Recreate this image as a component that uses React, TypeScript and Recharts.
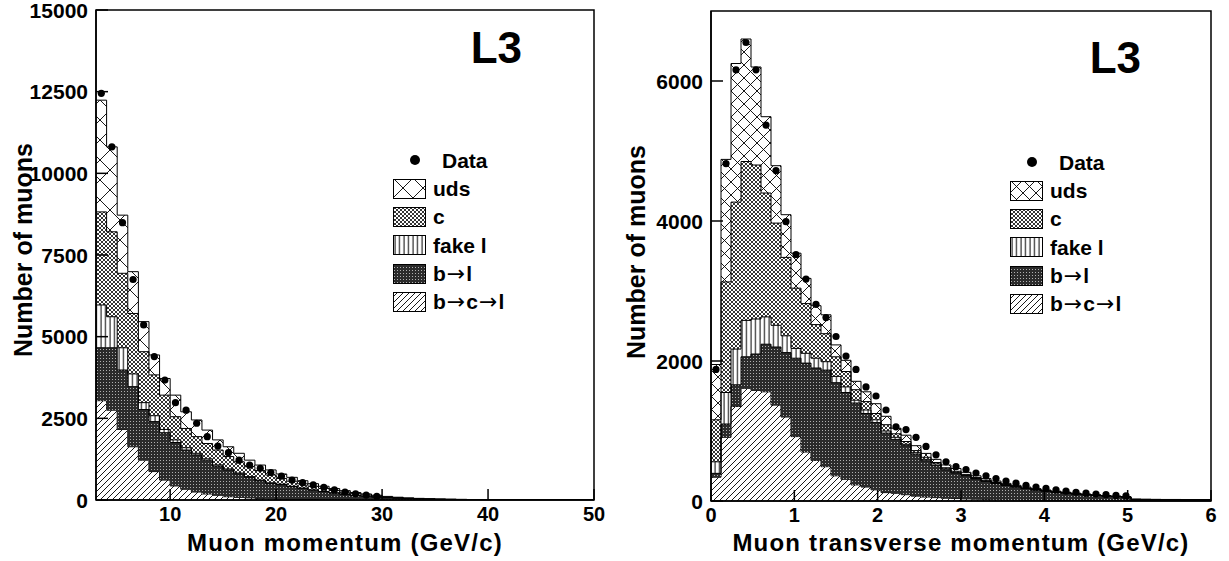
import React from "react";
import { ComposedChart, Area, Scatter, XAxis, YAxis, Legend, ReferenceArea } from "recharts";

const FONT = '"Liberation Sans", Arial, Helvetica, sans-serif';
const ARROW = "\u2192";

// ---------- left panel: muon momentum, 1 GeV bins from 3 to 50 ----------
const pEdges = [
  3, 4, 5, 6, 7, 8, 9, 10, 11, 12, 13, 14, 15, 16, 17, 18, 19, 20, 21, 22, 23, 24, 25, 26,
  27, 28, 29, 30, 31, 32, 33, 34, 35, 36, 37, 38, 39, 40, 41, 42, 43, 44, 45, 46, 47, 48, 49, 50,
];
const pBcl = [
  3040, 2750, 2160, 1630, 1220, 870, 610, 430, 330, 245, 185, 145, 100, 80, 65, 50, 40, 30, 25, 20,
  15, 12, 10, 8, 6, 5, 4, 3, 2, 2, 1, 1, 1, 0, 0, 0, 0, 0, 0, 0, 0, 0, 0, 0, 0, 0, 0,
];
const pBl = [
  1620, 1910, 1820, 1840, 1550, 1530, 1450, 1330, 1200, 1135, 1035, 895, 820, 720, 630, 540, 470, 440, 385, 335,
  285, 243, 205, 167, 134, 110, 86, 67, 52, 40, 31, 25, 19, 16, 13, 10, 8, 7, 6, 5, 4, 3, 3, 2, 2, 1, 1,
];
const pFake = [
  1310, 950, 680, 390, 210, 180, 100, 80, 70, 50, 40, 35, 30, 25, 20, 20, 15, 15, 10, 10,
  8, 7, 5, 5, 5, 3, 3, 2, 1, 1, 1, 0, 0, 0, 0, 0, 0, 0, 0, 0, 0, 0, 0, 0, 0, 0, 0,
];
const pC = [
  2850, 2600, 2280, 1850, 1560, 1250, 1050, 710, 590, 510, 470, 455, 380, 345, 305, 290, 240, 175, 155, 130,
  112, 93, 75, 60, 50, 37, 29, 21, 17, 12, 9, 7, 5, 4, 3, 2, 2, 2, 1, 1, 1, 1, 0, 0, 0, 0, 0,
];
const pUds = [
  3420, 2600, 1780, 1280, 920, 610, 510, 660, 510, 510, 410, 310, 300, 260, 200, 170, 155, 136, 119, 95,
  80, 65, 55, 45, 35, 30, 23, 17, 13, 10, 8, 7, 5, 5, 4, 3, 2, 1, 1, 0, 0, 0, 0, 0, 0, 0, 0,
];
const pData = [
  12450, 10810, 8490, 6750, 5360, 4390, 3670, 2980, 2750, 2350, 1940, 1650, 1450, 1220, 1070, 970, 840, 730, 610, 530,
  460, 390, 310, 245, 190, 150, 110, null, null, null, null, null, null, null, null, null, null, null, null, null,
  null, null, null, null, null, null, null,
];
const pXTicks = [10, 20, 30, 40, 50];
const pYTicks = [0, 2500, 5000, 7500, 10000, 12500, 15000];

// ---------- right panel: transverse momentum, 0.12 GeV bins from 0 to 6 ----------
const PT_BIN = 0.12;
const ptEdges = Array.from({ length: 51 }, (_, i) => Math.round(i * PT_BIN * 100) / 100);
const tBcl = [
  340, 910, 1350, 1610, 1580, 1560, 1370, 1200, 920, 700, 580, 490, 360, 310, 230, 200, 160, 120, 110, 90,
  70, 57, 48, 40, 35, 30, 26, 22, 19, 16, 14, 12, 10, 9, 8, 7, 6, 5, 4, 4, 3, 3, 1, 1, 0, 0, 0, 0, 0, 0,
];
const tBl = [
  55, 190, 310, 450, 520, 680, 830, 920, 1120, 1270, 1320, 1380, 1330, 1240, 1170, 1050, 960, 850, 770, 700,
  600, 518, 462, 405, 365, 325, 289, 258, 231, 206, 184, 164, 147, 131, 117, 105, 94, 84, 76, 67,
  60, 53, 22, 21, 21, 20, 20, 19, 18, 17,
];
const tFake = [
  165, 450, 510, 520, 500, 390, 310, 240, 140, 140, 140, 120, 90, 80, 40, 50, 40, 30, 30, 20,
  20, 20, 20, 15, 10, 10, 7, 6, 5, 5, 4, 4, 3, 3, 2, 2, 2, 2, 1, 1, 1, 1, 0, 0, 0, 0, 0, 0, 0, 0,
];
const tC = [
  600, 1580, 2100, 2270, 2200, 1770, 1460, 1120, 860, 710, 480, 400, 280, 220, 150, 120, 90, 90, 50, 40,
  30, 30, 20, 15, 15, 15, 13, 11, 9, 8, 7, 6, 5, 4, 4, 3, 2, 2, 2, 2, 2, 2, 1, 1, 1, 1, 1, 1, 1, 1,
];
const tUds = [
  790, 1750, 1980, 1750, 1400, 1090, 820, 610, 500, 360, 270, 270, 170, 160, 120, 140, 140, 120, 80, 90,
  70, 55, 45, 40, 40, 30, 25, 23, 21, 17, 15, 13, 12, 10, 9, 8, 7, 6, 5, 4, 4, 3, 2, 1, 1, 1, 1, 1, 1, 1,
];
const tData = [
  1880, 4820, 6160, 6550, 6160, 5370, 4720, 3990, 3520, 3170, 2810, 2620, 2350, 2070, 1880, 1630, 1500, 1300, 1060, 1020,
  910, 780, 660, 560, 490, 450, 400, 360, 320, 285, 255, 225, 200, 180, 160, 140, 125, 112, 100, 90,
  80, 72, null, null, null, null, null, null, null, null,
];
const tXTicks = [0, 1, 2, 3, 4, 5, 6];
const tYTicks = [0, 2000, 4000, 6000];

// stacking order, bottom to top
const stack = [
  { key: "bcl", name: `b${ARROW}c${ARROW}l`, fill: "url(#hBcl)" },
  { key: "bl", name: `b${ARROW}l`, fill: "url(#hBl)" },
  { key: "fake", name: "fake l", fill: "url(#hFake)" },
  { key: "c", name: "c", fill: "url(#hC)" },
  { key: "uds", name: "uds", fill: "" },
];

function buildRows(edges: number[], bcl: number[], bl: number[], fake: number[], c: number[], uds: number[]) {
  const rows = edges.slice(0, -1).map((x, i) => ({ x, bcl: bcl[i], bl: bl[i], fake: fake[i], c: c[i], uds: uds[i] }));
  // repeat the last bin at the upper edge so the step closes
  rows.push({ ...rows[rows.length - 1], x: edges[edges.length - 1] });
  return rows;
}

function buildPoints(edges: number[], data: (number | null)[]) {
  return data
    .map((y, i) => (y == null ? null : { x: (edges[i] + edges[i + 1]) / 2, y }))
    .filter((p) => p !== null);
}

const XTick = (props: any) => {
  const { x, y, payload } = props;
  return (
    <g>
      <line x1={x} x2={x} y1={y} y2={y - 11} stroke="#000" strokeWidth={1.5} />
      <text x={x} y={y + 21} textAnchor="middle" fontFamily={FONT} fontWeight="bold" fontSize={20} fill="#000">
        {payload.value}
      </text>
    </g>
  );
};

const YTick = (props: any) => {
  const { x, y, payload } = props;
  return (
    <g>
      <line x1={x} x2={x + 12} y1={y} y2={y} stroke="#000" strokeWidth={1.5} />
      <text x={x - 8} y={y} textAnchor="end" dominantBaseline="central" fontFamily={FONT} fontWeight="bold" fontSize={21} fill="#000">
        {payload.value}
      </text>
    </g>
  );
};

const DataDot = (props: any) => <circle cx={props.cx} cy={props.cy} r={3.6} fill="#000" />;

// long thin arrows as in the original, the rest in bold Helvetica-like
function LegendName({ name }: { name: string }) {
  const parts = name.split(ARROW);
  return (
    <>
      {parts.map((part, i) => (
        <React.Fragment key={i}>
          {i > 0 && (
            <span style={{ fontFamily: '"DejaVu Sans", sans-serif', fontWeight: 400, fontSize: 22, margin: "0 1px" }}>{ARROW}</span>
          )}
          {part}
        </React.Fragment>
      ))}
    </>
  );
}

function LegendBox({ udsFill }: { udsFill: string }) {
  const row = { display: "flex", alignItems: "center", height: 28.4 } as const;
  return (
    <div style={{ fontFamily: FONT, fontWeight: 700, fontSize: 21, color: "#000", lineHeight: 1 }}>
      <div style={row}>
        <svg width={34} height={22}>
          <circle cx={22} cy={11} r={5} fill="#000" />
        </svg>
        <span style={{ marginLeft: 15 }}>Data</span>
      </div>
      {[...stack].reverse().map((s) => (
        <div key={s.key} style={row}>
          <svg width={34} height={22}>
            <rect x={0.5} y={1.5} width={32} height={19} fill={s.key === "uds" ? udsFill : s.fill} stroke="#000" strokeWidth={1} />
          </svg>
          <span style={{ marginLeft: 6 }}>
            <LegendName name={s.name} />
          </span>
        </div>
      ))}
    </div>
  );
}

interface PanelProps {
  left: number;
  width: number;
  margin: { top: number; right: number; left: number; bottom: number };
  yAxisWidth: number;
  xAxisHeight: number;
  rows: any[];
  points: any[];
  xDomain: [number, number];
  xTicks: number[];
  yMax: number;
  yTicks: number[];
  udsFill: string;
  legendPos: { left: number; top: number };
}

function Panel(p: PanelProps) {
  return (
    <div style={{ position: "absolute", left: p.left, top: 0 }}>
      <ComposedChart width={p.width} height={561} data={p.rows} margin={p.margin}>
        <XAxis
          dataKey="x"
          type="number"
          domain={p.xDomain}
          ticks={p.xTicks}
          interval={0}
          allowDataOverflow
          tickSize={0}
          tickMargin={0}
          tick={<XTick />}
          height={p.xAxisHeight}
          axisLine={{ stroke: "#000", strokeWidth: 1.5 }}
        />
        <YAxis
          type="number"
          domain={[0, p.yMax]}
          ticks={p.yTicks}
          interval={0}
          allowDataOverflow
          tickSize={0}
          tickMargin={0}
          tick={<YTick />}
          width={p.yAxisWidth}
          axisLine={{ stroke: "#000", strokeWidth: 1.5 }}
        />
        {stack.map((s) => (
          <Area
            key={s.key}
            type="stepAfter"
            dataKey={s.key}
            name={s.name}
            stackId="mc"
            stroke="#000"
            strokeWidth={1}
            fill={s.key === "uds" ? p.udsFill : s.fill}
            fillOpacity={1}
            dot={false}
            activeDot={false}
            isAnimationActive={false}
          />
        ))}
        <Scatter data={p.points} dataKey="y" name="Data" fill="#000" shape={<DataDot />} isAnimationActive={false} />
        <ReferenceArea x1={p.xDomain[0]} x2={p.xDomain[1]} y1={0} y2={p.yMax} fill="none" stroke="#000" strokeWidth={1.5} />
        <Legend
          layout="vertical"
          align="center"
          verticalAlign="middle"
          wrapperStyle={{ left: p.legendPos.left, top: p.legendPos.top, width: 170 }}
          content={() => <LegendBox udsFill={p.udsFill} />}
        />
      </ComposedChart>
    </div>
  );
}

export default function App() {
  const pRows = buildRows(pEdges, pBcl, pBl, pFake, pC, pUds);
  const pPoints = buildPoints(pEdges, pData);
  const tRows = buildRows(ptEdges, tBcl, tBl, tFake, tC, tUds);
  const tPoints = buildPoints(ptEdges, tData);
  const titleStyle = { fontFamily: FONT, fontWeight: 700, fontSize: 24, fill: "#000" };

  return (
    <div style={{ position: "absolute", left: 0, top: 0, width: 1229, height: 561, background: "#fff", overflow: "hidden" }}>
      <svg width={0} height={0} style={{ position: "absolute" }}>
        <defs>
          <pattern id="hUdsL" width={20} height={20} patternUnits="userSpaceOnUse">
            <path d="M0,0 L20,20 M20,0 L0,20" stroke="#000" strokeWidth={0.9} />
          </pattern>
          <pattern id="hUdsR" width={13} height={13} patternUnits="userSpaceOnUse">
            <path d="M0,0 L13,13 M13,0 L0,13" stroke="#000" strokeWidth={0.9} />
          </pattern>
          <pattern id="hC" width={4} height={4} patternUnits="userSpaceOnUse">
            <path d="M0,0 L4,4 M4,0 L0,4" stroke="#000" strokeWidth={0.8} />
          </pattern>
          <pattern id="hFake" width={4.5} height={10} patternUnits="userSpaceOnUse">
            <path d="M2,0 L2,10" stroke="#000" strokeWidth={1} />
          </pattern>
          <pattern id="hBl" width={3} height={3} patternUnits="userSpaceOnUse">
            <rect width={3} height={3} fill="#2b2b2b" />
            <rect x={1} y={1} width={1} height={1} fill="#b0b0b0" />
          </pattern>
          <pattern id="hBcl" width={6} height={6} patternUnits="userSpaceOnUse">
            <path d="M0,6 L6,0 M-1,1 L1,-1 M5,7 L7,5" stroke="#000" strokeWidth={0.9} />
          </pattern>
        </defs>
      </svg>

      <Panel
        left={0}
        width={614}
        margin={{ top: 10, right: 20, left: 0, bottom: 0 }}
        yAxisWidth={96}
        xAxisHeight={61}
        rows={pRows}
        points={pPoints}
        xDomain={[3, 50]}
        xTicks={pXTicks}
        yMax={15000}
        yTicks={pYTicks}
        udsFill="url(#hUdsL)"
        legendPos={{ left: 393, top: 146 }}
      />
      <Panel
        left={614}
        width={615}
        margin={{ top: 11, right: 18, left: 0, bottom: 0 }}
        yAxisWidth={97}
        xAxisHeight={60}
        rows={tRows}
        points={tPoints}
        xDomain={[0, 6]}
        xTicks={tXTicks}
        yMax={7000}
        yTicks={tYTicks}
        udsFill="url(#hUdsR)"
        legendPos={{ left: 396, top: 148 }}
      />

      <svg width={1229} height={561} style={{ position: "absolute", left: 0, top: 0, pointerEvents: "none" }}>
        <text transform="translate(23,250) rotate(-90)" textAnchor="middle" dominantBaseline="central" {...titleStyle} fontSize={25}>
          Number of muons
        </text>
        <text transform="translate(636,252) rotate(-90)" textAnchor="middle" dominantBaseline="central" {...titleStyle} fontSize={25}>
          Number of muons
        </text>
        <text x={345} y={551} textAnchor="middle" letterSpacing={1.2} {...titleStyle}>
          Muon momentum (GeV/c)
        </text>
        <text x={961} y={551} textAnchor="middle" letterSpacing={1.2} {...titleStyle}>
          Muon transverse momentum (GeV/c)
        </text>
        <text x={522} y={63} textAnchor="end" fontFamily={FONT} fontWeight={700} fontSize={44} fill="#000">
          L3
        </text>
        <text x={1141} y={73} textAnchor="end" fontFamily={FONT} fontWeight={700} fontSize={44} fill="#000">
          L3
        </text>
      </svg>
    </div>
  );
}
